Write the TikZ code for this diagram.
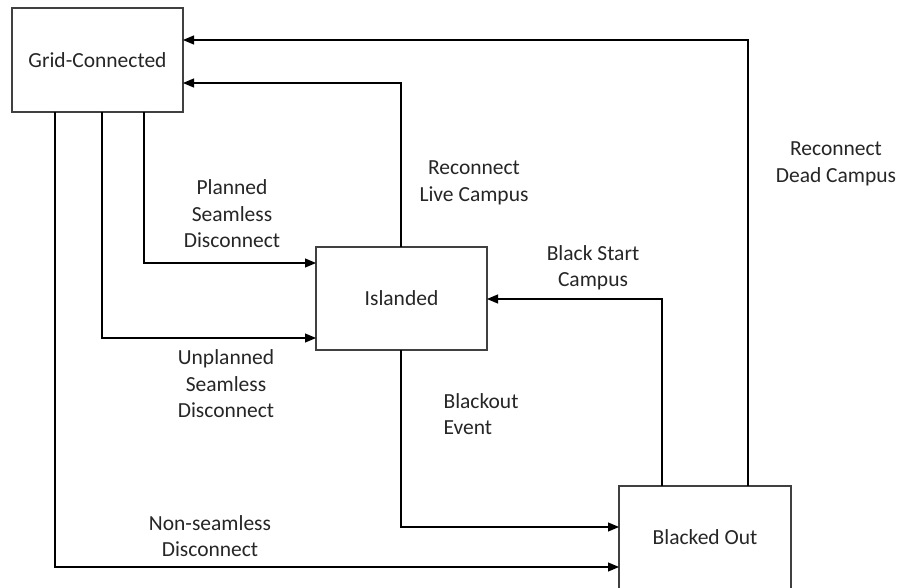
\documentclass[tikz,border=0pt]{standalone}
\usepackage{fontspec}
\setmainfont{Carlito}
\usetikzlibrary{arrows.meta}
\definecolor{linegray}{HTML}{404040}
\begin{document}
\begin{tikzpicture}[x=1pt,y=-1pt,
  statebox/.style={draw=linegray,line width=1.1pt,fill=white},
  flow/.style={draw=black,line width=1.1pt,-{Triangle[length=11pt,width=9pt]}},
  lbl/.style={font=\fontsize{21.5}{26.5}\selectfont,align=center,text=black!85}]
\useasboundingbox[fill=white] (0,0) rectangle (904,588);
% states
\draw[statebox] (12,8) rectangle (183,112);
\node[lbl] (grid) at (97.5,60) {Grid-Connected};
\draw[statebox] (316,247) rectangle (487,350);
\node[lbl] (isl) at (401.5,298.5) {Islanded};
\draw[statebox] (619,486) rectangle (791,600);
\node[lbl] (bo) at (705,537) {Blacked Out};
% anchor points on box edges
\coordinate (gA) at (55,112);  \coordinate (gB) at (102,112); \coordinate (gC) at (144,112);
\coordinate (gR1) at (183,40); \coordinate (gR2) at (183,83);
\coordinate (iT) at (401,247); \coordinate (iB) at (401,350);
\coordinate (iL1) at (316,263); \coordinate (iL2) at (316,338); \coordinate (iR) at (487,299);
\coordinate (bT1) at (662,486); \coordinate (bT2) at (748,486);
\coordinate (bL1) at (619,527); \coordinate (bL2) at (619,567);
% transitions
\draw[flow] (gC) |- (iL1);
\draw[flow] (gB) |- (iL2);
\draw[flow] (gA) |- (bL2);
\draw[flow] (iT) |- (gR2);
\draw[flow] (iB) |- (bL1);
\draw[flow] (bT1) |- (iR);
\draw[flow] (bT2) |- (gR1);
% transition labels
\node[lbl] (l1) at (232,214) {Planned\\Seamless\\Disconnect};
\node[lbl] (l2) at (226,384) {Unplanned\\Seamless\\Disconnect};
\node[lbl] (l3) at (210,536) {Non-seamless\\Disconnect};
\node[lbl] (l4) at (474,183) {Reconnect\\Live Campus};
\node[lbl] (l5) at (593,268) {Black Start\\Campus};
\node[lbl,align=left] (l6) at (481,414) {Blackout\\Event};
\node[lbl] (l7) at (836,164) {Reconnect\\Dead Campus};
\end{tikzpicture}
\end{document}
